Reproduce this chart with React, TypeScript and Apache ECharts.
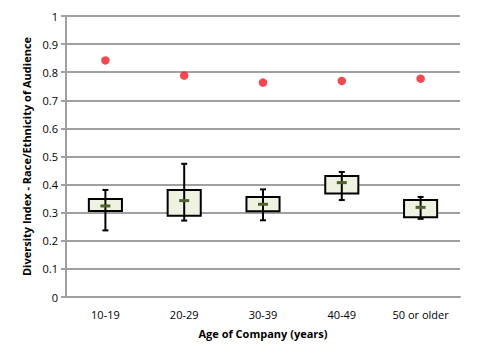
import React, { useEffect, useRef } from "react";
import * as echarts from "echarts";

const categories = ["10-19", "20-29", "30-39", "40-49", "50 or older"];
const whiskerLow = [0.237, 0.272, 0.273, 0.345, 0.278];
const boxLow = [0.306, 0.289, 0.305, 0.368, 0.284];
const means = [0.324, 0.343, 0.330, 0.407, 0.319];
const boxHigh = [0.349, 0.381, 0.356, 0.431, 0.345];
const whiskerHigh = [0.381, 0.474, 0.383, 0.445, 0.356];
const redPoints = [0.842, 0.788, 0.763, 0.769, 0.777];
const yTicks = [0, 0.1, 0.2, 0.3, 0.4, 0.5, 0.6, 0.7, 0.8, 0.9, 1];

const FONT = "'Open Sans', 'Noto Sans', sans-serif";

export default function App() {
  const ref = useRef<HTMLDivElement>(null);
  useEffect(() => {
    document.body.style.margin = "0";
    const chart = echarts.init(ref.current!, null, { renderer: "svg" });
    const boxData = categories.map((_, i) => [
      i,
      whiskerLow[i],
      boxLow[i],
      means[i],
      boxHigh[i],
      whiskerHigh[i],
    ]);
    chart.setOption({
      animation: false,
      backgroundColor: "#ffffff",
      grid: { left: 66, right: 17, top: 16, bottom: 63 },
      xAxis: {
        type: "category",
        data: categories,
        name: "Age of Company (years)",
        nameLocation: "middle",
        nameGap: 31,
        nameTextStyle: { fontFamily: FONT, fontSize: 11, fontWeight: "bold", color: "#000" },
        axisLine: { lineStyle: { color: "#a0a0a0", width: 2 } },
        axisTick: { length: 5, lineStyle: { color: "#a0a0a0", width: 2 } },
        axisLabel: { fontFamily: FONT, fontSize: 11, color: "#000", margin: 12 },
      },
      yAxis: {
        type: "value",
        min: 0,
        max: 1,
        interval: 0.1,
        name: "Diversity Index - Race/Ethnicity of Audience",
        nameLocation: "middle",
        nameGap: 32,
        nameTextStyle: { fontFamily: FONT, fontSize: 11, fontWeight: "bold", color: "#000" },
        axisLine: { show: true, lineStyle: { color: "#a0a0a0", width: 2 } },
        axisTick: { show: true, length: 5, lineStyle: { color: "#a0a0a0", width: 2 } },
        splitLine: { lineStyle: { color: "#a0a0a0", width: 2 } },
        axisLabel: {
          fontFamily: FONT,
          fontSize: 11,
          color: "#000",
          margin: 8,
          formatter: (v: number) => {
            const t = yTicks.find((x) => Math.abs(x - v) < 1e-6);
            return String(t !== undefined ? t : Math.round(v * 10) / 10);
          },
        },
      },
      series: [
        {
          type: "custom",
          data: boxData,
          encode: { x: 0, y: [1, 2, 3, 4, 5] },
          renderItem: (params: any, api: any) => {
            const x = api.value(0);
            const pWL = api.coord([x, api.value(1)]);
            const pBL = api.coord([x, api.value(2)]);
            const pM = api.coord([x, api.value(3)]);
            const pBH = api.coord([x, api.value(4)]);
            const pWH = api.coord([x, api.value(5)]);
            const bandW = api.size([1, 0])[0];
            const bw = bandW * 0.42;
            const cx = pM[0];
            const cap = 3;
            const mw = 5;
            return {
              type: "group",
              children: [
                {
                  type: "rect",
                  shape: { x: cx - bw / 2, y: pBH[1], width: bw, height: pBL[1] - pBH[1] },
                  style: { fill: "#eef2e1", stroke: "#000", lineWidth: 2 },
                },
                {
                  type: "line",
                  shape: { x1: cx, y1: pWH[1], x2: cx, y2: pWL[1] },
                  style: { stroke: "#000", lineWidth: 2 },
                },
                {
                  type: "line",
                  shape: { x1: cx - cap, y1: pWH[1], x2: cx + cap, y2: pWH[1] },
                  style: { stroke: "#000", lineWidth: 2 },
                },
                {
                  type: "line",
                  shape: { x1: cx - cap, y1: pWL[1], x2: cx + cap, y2: pWL[1] },
                  style: { stroke: "#000", lineWidth: 2 },
                },
                {
                  type: "line",
                  shape: { x1: cx - mw, y1: pM[1], x2: cx + mw, y2: pM[1] },
                  style: { stroke: "#4f6228", lineWidth: 3 },
                },
              ],
            };
          },
          z: 3,
        },
        {
          type: "scatter",
          data: redPoints,
          symbol: "circle",
          symbolSize: 8.5,
          itemStyle: { color: "#ee1c24" },
          z: 4,
        },
      ],
    });
    return () => chart.dispose();
  }, []);
  return <div ref={ref} style={{ width: 477, height: 360 }} />;
}
